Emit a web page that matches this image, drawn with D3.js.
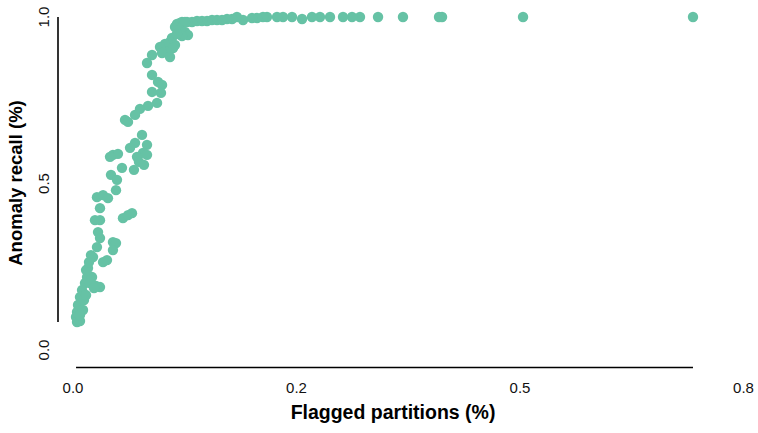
<!DOCTYPE html>
<html>
<head>
<meta charset="utf-8">
<script src="https://cdn.jsdelivr.net/npm/d3@7"></script>
<style>
  html, body { margin: 0; padding: 0; background: #fff; }
  svg { display: block; }
  text { font-family: "Liberation Sans", Arial, Helvetica, sans-serif; }
</style>
</head>
<body>
<svg id="chart" width="758" height="433"></svg>
<script>
// Flagged partitions (fraction)
const flagged = [
  0.6935, 0.5034, 0.4128, 0.4094, 0.3691, 0.3412, 0.3210, 0.3121, 0.3020, 0.2875,
  0.2763, 0.2673, 0.2562, 0.2450, 0.2349, 0.2282, 0.2170, 0.2125, 0.2058, 0.2002,
  0.1902, 0.1834, 0.1779, 0.1723, 0.1667, 0.1611, 0.1555, 0.1499, 0.1443, 0.1387,
  0.1331, 0.1275, 0.1219, 0.1163, 0.1197, 0.1253,
  0.1141, 0.1197, 0.1253, 0.1286, 0.1219, 0.1163, 0.1107, 0.1085, 0.1141, 0.1029,
  0.0973, 0.1119, 0.1051, 0.0996, 0.0884, 0.1085, 0.0828, 0.0884, 0.0951, 0.0996,
  0.0884, 0.0984, 0.0940, 0.0839, 0.0749, 0.0694, 0.0582, 0.0615, 0.0772, 0.0694,
  0.0828, 0.0638, 0.0783, 0.0828, 0.0716, 0.0447, 0.0503, 0.0414, 0.0738, 0.0794,
  0.0548, 0.0682, 0.0425, 0.0492, 0.0481, 0.0268, 0.0336, 0.0391, 0.0302, 0.0246,
  0.0302, 0.0559, 0.0615, 0.0660, 0.0280, 0.0302, 0.0268, 0.0447, 0.0481, 0.0447,
  0.0224, 0.0336, 0.0380, 0.0168, 0.0201, 0.0157, 0.0213, 0.0134, 0.0302, 0.0258,
  0.0101, 0.0078, 0.0056, 0.0045, 0.0034, 0.0045, 0.0078, 0.0123, 0.0146, 0.0112,
  0.0078, 0.0190, 0.0235, 0.0146, 0.0179
];
// Anomaly recall (fraction)
const recall = [
  1.000, 1.000, 1.000, 1.000, 1.000, 1.000, 1.000, 1.000, 1.000, 1.000,
  1.000, 1.000, 0.994, 1.000, 1.000, 1.000, 1.000, 1.000, 0.997, 0.997,
  0.991, 1.000, 0.994, 0.994, 0.991, 0.991, 0.991, 0.988, 0.988, 0.988,
  0.985, 0.985, 0.985, 0.979, 0.982, 0.985,
  0.970, 0.961, 0.955, 0.946, 0.943, 0.949, 0.937, 0.925, 0.916, 0.919,
  0.910, 0.907, 0.895, 0.892, 0.886, 0.880, 0.862, 0.826, 0.805, 0.796,
  0.775, 0.772, 0.742, 0.733, 0.724, 0.706, 0.691, 0.685, 0.646, 0.622,
  0.616, 0.607, 0.592, 0.586, 0.580, 0.586, 0.589, 0.580, 0.565, 0.556,
  0.547, 0.541, 0.526, 0.511, 0.480, 0.459, 0.465, 0.456, 0.426, 0.390,
  0.390, 0.396, 0.405, 0.411, 0.354, 0.336, 0.309, 0.324, 0.321, 0.300,
  0.279, 0.264, 0.270, 0.246, 0.285, 0.219, 0.219, 0.201, 0.189, 0.192,
  0.180, 0.159, 0.135, 0.114, 0.099, 0.084, 0.087, 0.150, 0.165, 0.120,
  0.105, 0.201, 0.186, 0.240, 0.264
];
const xTickValues = [0, 0.25, 0.5, 0.75];
const xTickLabels = ["0.0", "0.2", "0.5", "0.8"];
const yTickValues = [0, 0.5, 1];
const yTickLabels = ["0.0", "0.5", "1.0"];
const xTitle = "Flagged partitions (%)";
const yTitle = "Anomaly recall (%)";

const points = flagged.map((f, i) => ({ x: f, y: recall[i] }));

const svg = d3.select("#chart");
const x = d3.scaleLinear().domain([0, 0.75]).range([73, 743.5]);
const y = d3.scaleLinear().domain([0, 1]).range([350, 17]);

const xExt = d3.extent(flagged);
const yExt = d3.extent(recall);

// Range-frame axis lines
svg.append("line")
  .attr("x1", x(xExt[0])).attr("x2", x(xExt[1]))
  .attr("y1", 367.5).attr("y2", 367.5)
  .attr("stroke", "#000").attr("stroke-width", 1.6);
svg.append("line")
  .attr("x1", 58).attr("x2", 58)
  .attr("y1", y(yExt[1])).attr("y2", y(yExt[0]))
  .attr("stroke", "#000").attr("stroke-width", 1.6);

// X tick labels
svg.append("g").selectAll("text")
  .data(xTickValues)
  .join("text")
  .attr("x", d => x(d))
  .attr("y", 393)
  .attr("text-anchor", "middle")
  .attr("font-size", 15)
  .attr("fill", "#111")
  .text((d, i) => xTickLabels[i]);

// Y tick labels (rotated)
svg.append("g").selectAll("text")
  .data(yTickValues)
  .join("text")
  .attr("transform", d => `translate(48.5,${y(d)}) rotate(-90)`)
  .attr("text-anchor", "middle")
  .attr("font-size", 15)
  .attr("fill", "#111")
  .text((d, i) => yTickLabels[i]);

// Titles
svg.append("text")
  .attr("x", 393).attr("y", 419)
  .attr("text-anchor", "middle")
  .attr("font-size", 19.5).attr("font-weight", "bold")
  .attr("fill", "#000")
  .text(xTitle);
svg.append("text")
  .attr("transform", `translate(22,183) rotate(-90)`)
  .attr("text-anchor", "middle")
  .attr("font-size", 18.5).attr("font-weight", "bold")
  .attr("fill", "#000")
  .text(yTitle);

// Points
svg.append("g").selectAll("circle")
  .data(points)
  .join("circle")
  .attr("cx", d => x(d.x))
  .attr("cy", d => y(d.y))
  .attr("r", 5.2)
  .attr("fill", "#66c2a5");
</script>
</body>
</html>
